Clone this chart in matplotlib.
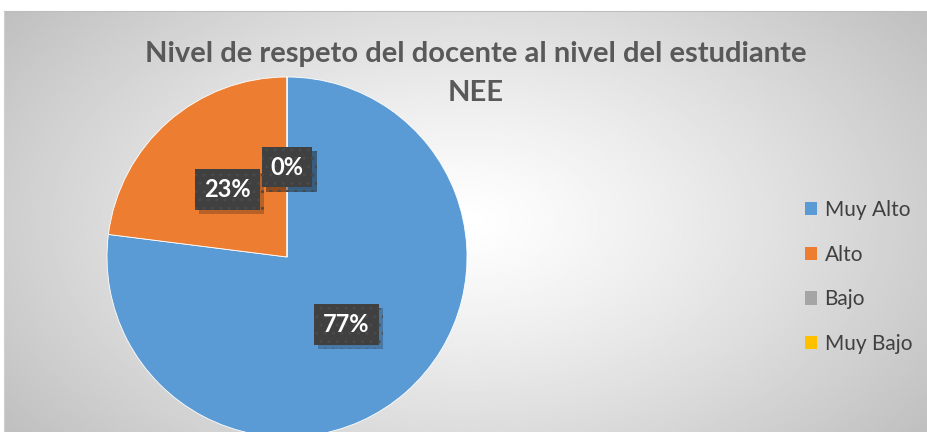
import numpy as np
import matplotlib.pyplot as plt
import matplotlib.patheffects as pe

# Chart data
categorias = ['Muy Alto', 'Alto', 'Bajo', 'Muy Bajo']
valores = [77, 23, 0, 0]
colores = ['#5B9BD5', '#ED7D31', '#A5A5A5', '#FFC000']
titulo = 'Nivel de respeto del docente al nivel del estudiante\nNEE'

W, H = 928, 432
fig = plt.figure(figsize=(W / 100, H / 100), dpi=100)
fig.patch.set_facecolor('white')

# Chart area background: radial gray-white gradient
bg = fig.add_axes([4 / W, 0, (W - 4) / W, (H - 11) / H])
ny, nx = 200, 400
xx, yy = np.meshgrid(np.linspace(-1, 1, nx), np.linspace(-1, 1, ny))
d = np.sqrt(xx ** 2 + (yy * 0.75) ** 2) / np.sqrt(1 + 0.75 ** 2)
g = 1 - 0.25 * np.clip(d, 0, 1) ** 1.2
bg.imshow(g, cmap='gray', vmin=0, vmax=1, aspect='auto', extent=[0, 1, 0, 1])
bg.set_xticks([])
bg.set_yticks([])
for s in ['bottom', 'right']:
    bg.spines[s].set_visible(False)
bg.spines['top'].set_color('#bfbfbf')
bg.spines['left'].set_color('#d0d0d0')

# Title
lineas = titulo.split('\n')
fig.text(476 / W, 1 - 54 / H, lineas[0], ha='center', va='center',
         fontsize=21, fontweight='bold', color='#595959', family='Lato')
fig.text(476 / W, 1 - 93 / H, lineas[1], ha='center', va='center',
         fontsize=21, fontweight='bold', color='#595959', family='Lato')

# Pie
cx, cy, r = 287, 257, 180
ax = fig.add_axes([(cx - r) / W, (H - cy - r) / H, 2 * r / W, 2 * r / H])
ax.set_aspect('equal')
ax.axis('off')
wedges, texts, autotexts = ax.pie(
    valores, colors=colores, startangle=90, counterclock=False,
    autopct='%1.0f%%', pctdistance=0.5, radius=1,
    wedgeprops=dict(edgecolor='white', linewidth=0.6),
    textprops=dict(color='white', fontsize=17, fontweight='bold', family='Lato'))
for t in autotexts:
    t.set_bbox(dict(boxstyle='square,pad=0.38', facecolor='#404040',
                    edgecolor='#4a4a4a', linewidth=0, hatch='..'))
    t.get_bbox_patch().set_path_effects(
        [pe.SimplePatchShadow(offset=(3, -3), shadow_rgbFace='black', alpha=0.22),
         pe.Normal()])
ax.set_xlim(-1, 1)
ax.set_ylim(-1, 1)

# Legend
leg = fig.legend(wedges, categorias, loc='center left',
                 bbox_to_anchor=(786 / W, 1 - 277 / H), frameon=False,
                 prop=dict(family='Lato', size=15), labelcolor='#404040',
                 handlelength=0.6, handleheight=0.6, handletextpad=0.35,
                 labelspacing=1.18)
for h in leg.legend_handles:
    h.set_edgecolor('none')
    h.set_linewidth(0)
    h.set_hatch(None)

fig.savefig('out.png', dpi=100)
